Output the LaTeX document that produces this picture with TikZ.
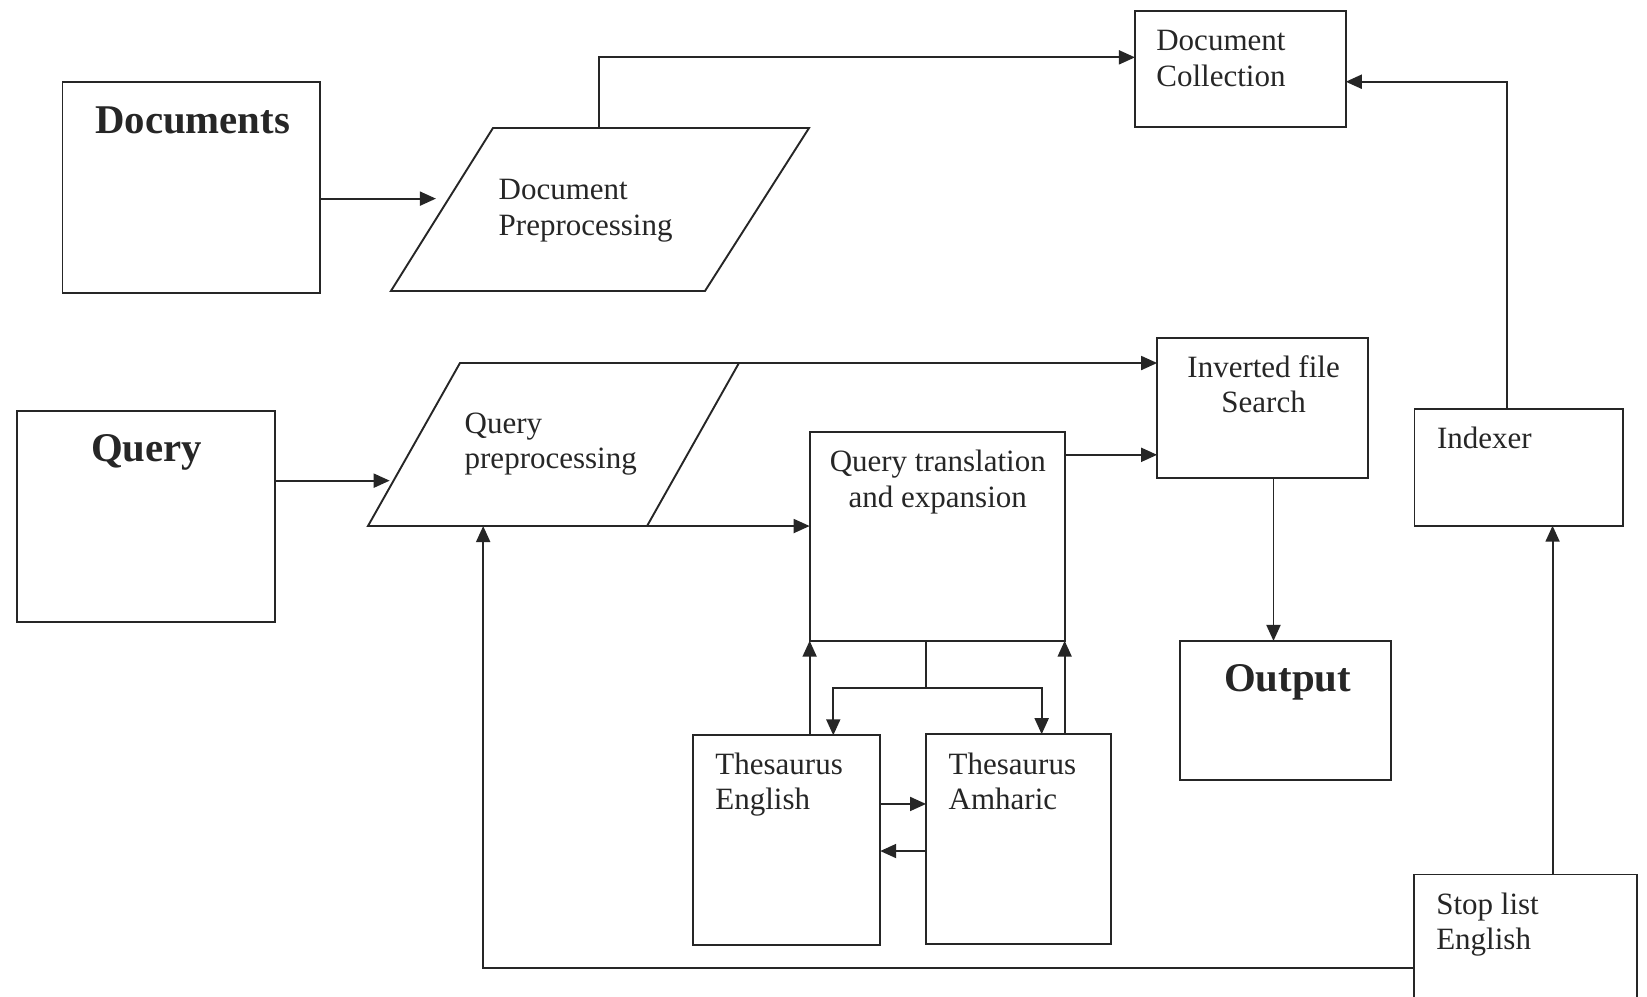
\documentclass[tikz,border=0pt]{standalone}
\usepackage{fontspec}
\setmainfont{Liberation Serif}
\usetikzlibrary{arrows.meta,fit}
\definecolor{ink}{HTML}{262626}
\newcommand\mytab[2]{\begin{tabular}[t]{@{}#1@{}}#2\end{tabular}}
\tikzset{
  box/.style={draw=ink, line width=0.95pt, inner sep=0pt, outer sep=0pt},
  ln/.style={draw=ink, line width=0.95pt},
  arr/.style={draw=ink, line width=0.95pt, -{Triangle[length=8pt,width=7pt]}},
  txt/.style={text=ink, inner sep=0pt, font=\fontsize{15.5}{17.7}\selectfont},
  big/.style={text=ink, inner sep=0pt, font=\fontsize{20.4}{24}\selectfont\bfseries},
}
\begin{document}
\begin{tikzpicture}[x=0.5252pt,y=-0.5252pt]
\fill[white] (0,0) rectangle (1568,949);
\useasboundingbox (0,0) rectangle (1568,949);
\clip (0,0) rectangle (1568,949);

% boxes
\node[box, fit={(59.5,78.4) (305,279.3)}] (docs) {};
\node[box, fit={(16.6,391) (262,591.8)}] (query) {};
\node[box, fit={(1080.5,10.5) (1281.2,121.2)}] (dc) {};
\node[box, fit={(1101.6,322) (1302,454.8)}] (inv) {};
\node[box, fit={(770.8,411) (1013.6,610)}] (qt) {};
\node[box, fit={(1123.7,610.2) (1323.9,742.6)}] (out) {};
\node[box, fit={(660,700) (838,899.6)}] (te) {};
\node[box, fit={(881.6,699) (1057.7,899)}] (ta) {};
\node[box, fit={(1346.6,389.2) (1544.8,500.5)}] (idx) {};
\node[box, fit={(1346.5,832.5) (1558.1,975)}] (stop) {};

% parallelograms
\coordinate (dpBL) at (372.2,277);
\coordinate (dpBR) at (671.2,277);
\coordinate (dpTR) at (770.2,121.9);
\coordinate (dpTL) at (469.3,121.9);
\draw[ln, line join=miter] (dpBL) -- (dpBR) -- (dpTR) -- (dpTL) -- cycle;
\coordinate (qpBL) at (350.3,500.8);
\coordinate (qpBR) at (616,500.8);
\coordinate (qpTR) at (703.5,345.6);
\coordinate (qpTL) at (437.9,345.6);
\draw[ln, line join=miter] (qpBL) -- (qpBR) -- (qpTR) -- (qpTL) -- cycle;

% texts
\node[big, anchor=base] (docsT) at (183.4,126.9) {Documents};
\node[big, anchor=base] (queryT) at (139.6,439.5) {Query};
\node[big, anchor=base] (outT) at (1225.8,658.5) {Output};
\node[txt, anchor=base west] (dpT) at (474.4,190.4) {\mytab{l}{Document\\Preprocessing}};
\node[txt, anchor=base west] (qpT) at (442,412.5) {\mytab{l}{Query\\preprocessing}};
\node[txt, anchor=base west] (dcT) at (1100.5,48.2) {\mytab{l}{Document\\Collection}};
\node[txt, anchor=base] (invT) at (1203,359.2) {\mytab{c}{Inverted file\\Search}};
\node[txt, anchor=base] (qtT) at (892.8,449) {\mytab{c}{Query translation\\and expansion}};
\node[txt, anchor=base west] (idxT) at (1367.7,427.4) {Indexer};
\node[txt, anchor=base west] (teT) at (680.7,737) {\mytab{l}{Thesaurus\\English}};
\node[txt, anchor=base west] (taT) at (902.8,737) {\mytab{l}{Thesaurus\\Amharic}};
\node[txt, anchor=base west] (stopT) at (1367,870.4) {\mytab{l}{Stop list\\English}};

% connectors
\coordinate (dpin) at (415,189.1);
\draw[arr] (docs.east |- dpin) -- (dpin);
\coordinate (dpout) at (570,121.9);
\coordinate (dpup) at (570,54.6);
\draw[arr] (dpout) -- (dpup) -- (dpup -| dc.west);
\coordinate (idxup) at (1434.9,77.8);
\draw[arr] (idxup |- idx.north) -- (idxup) -- (idxup -| dc.east);
\coordinate (qpin) at (371,457.6);
\draw[arr] (query.east |- qpin) -- (qpin);
\draw[arr] (qpTR) -- (qpTR -| inv.west);
\draw[arr] (qpBR) -- (qpBR -| qt.west);
\coordinate (qtinv) at (1050,433);
\draw[arr] (qtinv -| qt.east) -- (qtinv -| inv.west);
\coordinate (io) at (1212.4,600);
\draw[arr] (io |- inv.south) -- (io |- out.north);
\draw[arr] (te.north -| qt.south west) -- (qt.south west);
\draw[arr] (ta.north -| qt.south east) -- (qt.south east);
\coordinate (br) at (881.8,655.3);
\coordinate (brL) at (793.3,655.3);
\coordinate (brR) at (991.7,655.3);
\draw[ln] (br |- qt.south) -- (br);
\draw[arr] (br) -- (brL) -- (brL |- te.north);
\draw[arr] (br) -- (brR) -- (brR |- ta.north);
\coordinate (tt1) at (860,765.4);
\coordinate (tt2) at (860,810.2);
\draw[arr] (tt1 -| te.east) -- (tt1 -| ta.west);
\draw[arr] (tt2 -| ta.west) -- (tt2 -| te.east);
\coordinate (si) at (1478.1,700);
\draw[arr] (si |- stop.north) -- (si |- idx.south);
\coordinate (fb) at (460,921.8);
\draw[arr] (fb -| stop.west) -- (fb) -- (fb |- qpBL);
\end{tikzpicture}
\end{document}
